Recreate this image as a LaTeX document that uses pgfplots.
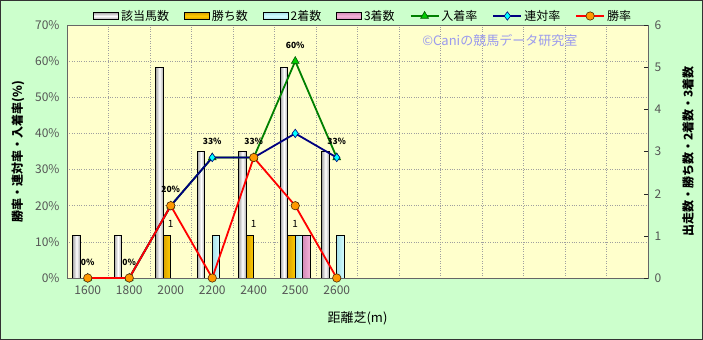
\documentclass[border=0pt]{standalone}
\usepackage{fontspec}
\setmainfont{Noto Sans CJK JP}
\usepackage{pgfplots}
\pgfplotsset{compat=1.18}
\definecolor{bggreen}{HTML}{CCFFCC}
\definecolor{plotyellow}{HTML}{FFFFCC}
\definecolor{tickgray}{HTML}{555555}
\definecolor{barGold}{HTML}{FFCC00}
\definecolor{barGoldD}{HTML}{D9A200}
\definecolor{barCyan}{HTML}{D4FCFF}
\definecolor{barCyanD}{HTML}{A8E2EA}
\definecolor{barPink}{HTML}{F6B4DA}
\definecolor{barPinkD}{HTML}{D48CB8}
\definecolor{barGray}{HTML}{A8A8A8}
\definecolor{lineGreen}{HTML}{008000}
\definecolor{markGreen}{HTML}{00CC00}
\definecolor{lineNavy}{HTML}{000080}
\definecolor{markCyan}{HTML}{00FFFF}
\definecolor{markOrange}{HTML}{FF9900}
\definecolor{wm}{HTML}{9A9AEE}
\pgfplotsset{
  common/.style={at={(67bp,62bp)}, anchor=south west, scale only axis,
    width=581bp, height=253bp, xmin=-0.5, xmax=13.5},
  mybarlegend/.style={legend image code/.code={\draw[##1] (0bp,-3.5bp) rectangle (25bp,3.5bp);}},
  mylinelegend/.style={legend image code/.code={\draw[mark repeat=2,mark phase=2,##1] plot coordinates {(0bp,0bp)(14bp,0bp)(28bp,0bp)};}},
  barbase/.style={ybar, bar width=7.5bp, draw=black, line width=0.8bp},
  barA/.style={barbase, bar shift=-11.25bp, left color=barGray, right color=barGray, middle color=white},
  barB/.style={barbase, bar shift=-3.75bp, left color=barGoldD, right color=barGold},
  barC/.style={barbase, bar shift=3.75bp, left color=barCyanD, right color=barCyan},
  barD/.style={barbase, bar shift=11.25bp, left color=barPinkD, right color=barPink},
  legA/.style={draw=black, line width=0.8bp, top color=barGray, bottom color=barGray, middle color=white},
  legB/.style={draw=black, line width=0.8bp, top color=barGoldD, bottom color=barGoldD, middle color=barGold},
  legC/.style={draw=black, line width=0.8bp, top color=barCyanD, bottom color=barCyanD, middle color=barCyan},
  legD/.style={draw=black, line width=0.8bp, top color=barPinkD, bottom color=barPinkD, middle color=barPink},
  winlabel/.style={nodes near coords, point meta=explicit symbolic,
    every node near coord/.append style={font=\fontsize{10bp}{12bp}\selectfont, text=black, shade=none, fill=none, draw=none, yshift=5bp}},
}
\begin{document}
\begin{tikzpicture}
\useasboundingbox (0,0) rectangle (703bp,340bp);
\fill[bggreen] (0,0) rectangle (703bp,340bp);
\draw[gray!40!black, line width=1bp] (0.5bp,0.5bp) rectangle (702.5bp,339.5bp);

% axis 1: background, grid, left ticks, x ticks
\begin{axis}[common, ymin=0, ymax=70,
  axis background/.style={fill=plotyellow},
  axis line style={draw=gray!80!black},
  xtick={0,...,6}, xticklabels={1600,1800,2000,2200,2400,2500,2600},
  minor xtick={-0.5,0.5,...,13.5}, xminorgrids=true,
  ytick={0,10,...,70}, yticklabel={\pgfmathprintnumber{\tick}\%}, ymajorgrids=true,
  major grid style={draw=gray!75, dotted, line width=0.6bp},
  minor grid style={draw=gray!75, dotted, line width=0.6bp},
  major tick length=0pt, minor tick length=0pt,
  /pgf/number format/assume math mode=true,
  tick label style={font=\fontsize{12bp}{14bp}\selectfont, text=tickgray},
  xticklabel style={yshift=-4bp}, yticklabel style={xshift=-4bp},
  xlabel={距離芝(m)}, ylabel={勝率・連対率・入着率(\%)},
  every axis x label/.style={at={(rel axis cs:0.5,0)}, yshift=-40bp, anchor=center, font=\fontsize{13bp}{15bp}\selectfont},
  every axis y label/.style={at={(rel axis cs:0,0.5)}, xshift=-49bp, rotate=90, anchor=center, font=\fontsize{12bp}{14bp}\selectfont\bfseries},
]
\end{axis}

% axis 2: counts, bars
\begin{axis}[common, ymin=0, ymax=6,
  axis y line*=right, axis x line=none,
  axis line style={draw=gray!80!black},
  ytick={0,...,6}, tick align=inside, major tick length=4bp,
  tick style={draw=gray!30!black},
  /pgf/number format/assume math mode=true,
  tick label style={font=\fontsize{12bp}{14bp}\selectfont, text=tickgray},
  yticklabel style={xshift=3bp},
  ylabel={出走数・勝ち数・2着数・3着数},
  every axis y label/.style={at={(rel axis cs:1,0.5)}, xshift=40bp, rotate=90, anchor=center, font=\fontsize{12bp}{14bp}\selectfont\bfseries},
]
% 該当馬数
\addplot[barA] coordinates {(0,1)};
\addplot[barA] coordinates {(1,1)};
\addplot[barA] coordinates {(2,5)};
\addplot[barA] coordinates {(3,3)};
\addplot[barA] coordinates {(4,3)};
\addplot[barA] coordinates {(5,5)};
\addplot[barA] coordinates {(6,3)};
% 勝ち数
\addplot[barB, winlabel] coordinates {(2,1)[1]};
\addplot[barB, winlabel] coordinates {(4,1)[1]};
\addplot[barB, winlabel] coordinates {(5,1)[1]};
% 2着数
\addplot[barC] coordinates {(3,1)};
\addplot[barC] coordinates {(5,1)};
\addplot[barC] coordinates {(6,1)};
% 3着数
\addplot[barD] coordinates {(5,1)};
\end{axis}

% axis 3: rates, lines, legend
\begin{axis}[common, ymin=0, ymax=70, hide axis, clip=false,
  legend columns=7,
  legend style={at={(0.0448,1)}, anchor=south west, yshift=1bp, draw=none, fill=none,
    font=\fontsize{12bp}{14bp}\selectfont, inner sep=0pt,
    /tikz/every even column/.append style={column sep=13bp}},
  legend cell align=left,
  legend entries={該当馬数,勝ち数,2着数,3着数,入着率,連対率,勝率},
]
\addlegendimage{mybarlegend, legA}
\addlegendimage{mybarlegend, legB}
\addlegendimage{mybarlegend, legC}
\addlegendimage{mybarlegend, legD}
\addplot[mylinelegend, color=lineGreen, line width=1.8bp, mark=triangle*, mark size=4.5bp,
  mark options={fill=markGreen, draw=lineGreen!70!black, line width=0.6bp},
  nodes near coords, point meta=explicit symbolic,
  every node near coord/.append style={font=\fontsize{8.5bp}{10bp}\selectfont\bfseries, text=black, anchor=center, yshift=16bp}]
  coordinates {(0,0)[0\%] (1,0)[0\%] (2,20)[20\%] (3,33.33)[33\%] (4,33.33)[33\%] (5,60)[60\%] (6,33.33)[33\%]};
\addplot[mylinelegend, color=lineNavy, line width=1.8bp, mark=diamond*, mark size=4.2bp,
  mark options={fill=markCyan, draw=lineNavy, line width=0.6bp}]
  coordinates {(0,0) (1,0) (2,20) (3,33.33) (4,33.33) (5,40) (6,33.33)};
\addplot[mylinelegend, color=red, line width=1.8bp, mark=*, mark size=4.2bp,
  mark options={fill=markOrange, draw=black!70!orange, line width=0.6bp}]
  coordinates {(0,0) (1,0) (2,20) (3,0) (4,33.33) (5,20) (6,0)};
\node[text=wm, font=\fontsize{13bp}{15bp}\selectfont] at (rel axis cs:0.745,0.94) {©Caniの競馬データ研究室};
\end{axis}
\end{tikzpicture}
\end{document}
